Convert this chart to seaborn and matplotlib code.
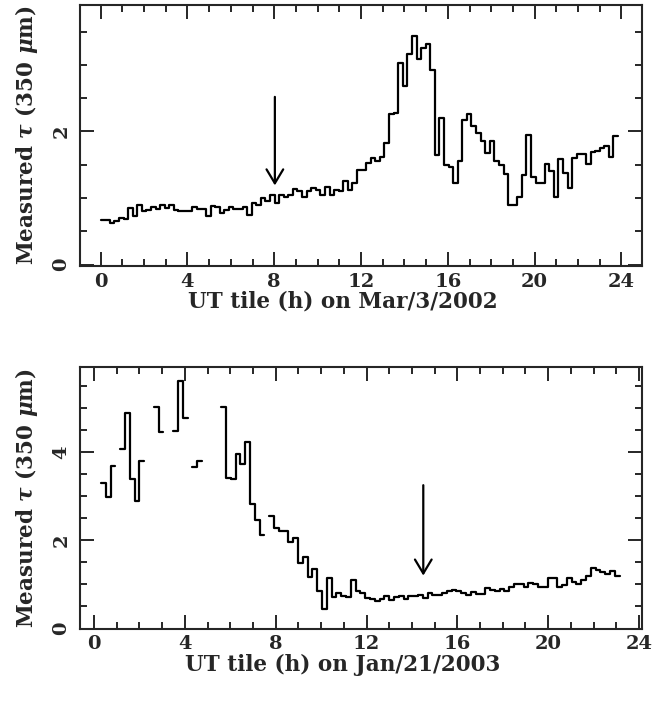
import numpy as np
import pandas as pd
import matplotlib.pyplot as plt
import seaborn as sns
from matplotlib.ticker import MultipleLocator

## tau(350 um) in ~12.7 min bins
## Mar/3/2002
start_2002 = 0.0
width_2002 = 0.211
tau_2002 = [0.67, 0.67, 0.62, 0.66, 0.70, 0.69, 0.85, 0.73, 0.90, 0.80,
            0.82, 0.86, 0.83, 0.90, 0.85, 0.90, 0.82, 0.81, 0.81, 0.81,
            0.86, 0.83, 0.83, 0.73, 0.88, 0.87, 0.77, 0.82, 0.87,
            0.83, 0.83, 0.87, 0.75, 0.93, 0.90, 1.00, 0.96, 1.04, 0.93,
            1.04, 1.02, 1.05, 1.13, 1.10, 1.02, 1.10, 1.15, 1.12, 1.05,
            1.17, 1.05, 1.12,
            1.10, 1.25, 1.12, 1.22, 1.42, 1.42, 1.52, 1.60, 1.56, 1.62,
            1.83, 2.27, 2.28, 3.03, 2.68, 3.16, 3.43, 3.09, 3.25, 3.32,
            2.93, 1.65, 2.20, 1.49, 1.47, 1.22, 1.56, 2.18, 2.27, 2.08,
            1.97, 1.86, 1.68, 1.85, 1.55, 1.49, 1.36, 0.89, 0.89, 1.02,
            1.35, 1.95, 1.31, 1.22, 1.22, 1.51, 1.40, 1.01, 1.58, 1.38,
            1.15, 1.60, 1.66, 1.66, 1.51, 1.69, 1.70, 1.75, 1.78, 1.61,
            1.93]
arrow_2002 = (8.03, 2.52, 1.19)

## Jan/21/2003 (nan = no data)
nan = np.nan
start_2003 = 0.308
width_2003 = 0.2115
tau_2003 = [3.29, 2.98, 3.69, nan, 4.06, 4.89, 3.40, 2.89, 3.80, nan,
            nan, 5.02, 4.46, nan, nan, 4.48, 5.62, 4.77, nan, 3.67,
            3.80, nan, nan, nan, nan, 5.03, 3.42, 3.38, 3.95, 3.74,
            4.23, 2.82, 2.45, 2.13, nan, 2.55, 2.27, 2.20, 2.20, 1.96,
            2.05, 1.49, 1.62, 1.17, 1.36, 0.86, 0.45, 1.14, 0.71, 0.80,
            0.73, 0.72, 1.09, 0.85, 0.81, 0.70, 0.68, 0.63, 0.67, 0.74,
            0.64, 0.72, 0.73, 0.67, 0.74, 0.74, 0.75, 0.70, 0.81, 0.77,
            0.76, 0.80, 0.85, 0.88, 0.85, 0.81, 0.77, 0.83, 0.79, 0.79,
            0.92, 0.88, 0.85, 0.90, 0.86, 0.94, 1.02, 1.02, 0.94, 1.03,
            1.00, 0.94, 0.94, 1.14, 1.14, 0.95, 0.98, 1.15, 1.05, 1.02,
            1.11, 1.20, 1.38, 1.33, 1.27, 1.23, 1.30, 1.20]
arrow_2003 = (14.5, 3.25, 1.20)


def steps_frame(start, width, vals):
    # one row per bin left edge, plus the right edge closing each run
    rows = []
    seg = 0
    prev_nan = True
    for i, v in enumerate(vals):
        if np.isnan(v):
            if not prev_nan:
                rows.append((start + i * width, vals[i - 1], seg))
                seg += 1
            prev_nan = True
            continue
        rows.append((start + i * width, v, seg))
        prev_nan = False
    if not prev_nan:
        rows.append((start + len(vals) * width, vals[-1], seg))
    return pd.DataFrame(rows, columns=['ut', 'tau', 'seg'])


sns.set_style('ticks')
plt.rcParams['font.family'] = ['DejaVu Serif', 'DejaVu Sans']
plt.rcParams['font.weight'] = 'bold'
plt.rcParams['mathtext.fontset'] = 'custom'
plt.rcParams['mathtext.it'] = 'DejaVu Serif:bold:italic'
plt.rcParams['mathtext.rm'] = 'DejaVu Serif:bold'

fig = plt.figure(figsize=(6.52, 7.02), dpi=100)
ax1 = fig.add_axes([0.1227, 0.6211, 0.862, 0.3718])
ax2 = fig.add_axes([0.1227, 0.1047, 0.8615, 0.3725])

panels = [
    (ax1, start_2002, width_2002, tau_2002, arrow_2002, 'UT tile (h) on Mar/3/2002', (-0.95, 24.95), (-0.02, 3.9)),
    (ax2, start_2003, width_2003, tau_2003, arrow_2003, 'UT tile (h) on Jan/21/2003', (-0.62, 24.12), (0.0, 5.93)),
]

for ax, st, w, vals, arr, xlab, xl, yl in panels:
    df = steps_frame(st, w, vals)
    sns.lineplot(data=df, x='ut', y='tau', units='seg', estimator=None,
                 drawstyle='steps-post', color='black', lw=1.6, ax=ax, legend=False)
    ax.annotate('', xy=(arr[0], arr[2]), xytext=(arr[0], arr[1]),
                arrowprops=dict(arrowstyle='->,head_length=0.5,head_width=0.3',
                                mutation_scale=20, color='black', lw=1.6,
                                shrinkA=0, shrinkB=0))
    ax.set_xlim(*xl)
    ax.set_ylim(*yl)
    ax.xaxis.set_major_locator(MultipleLocator(4))
    ax.xaxis.set_minor_locator(MultipleLocator(1))
    ax.yaxis.set_major_locator(MultipleLocator(2))
    ax.yaxis.set_minor_locator(MultipleLocator(0.5))
    ax.tick_params(which='both', direction='in', top=True, right=True, width=1.4, labelsize=14)
    ax.tick_params(which='major', length=10)
    ax.tick_params(which='minor', length=5)
    ax.tick_params(axis='x', pad=5)
    ax.tick_params(axis='y', pad=7)
    plt.setp(ax.get_yticklabels(), rotation=90, va='center')
    for sp in ax.spines.values():
        sp.set_linewidth(1.5)
    ax.set_xlabel(xlab, fontsize=15.5, fontweight='bold', labelpad=0)
    ax.xaxis.label.set_x(0.467)
    ax.set_ylabel(r'Measured $\tau$ (350 $\mu$m)', fontsize=15.5, fontweight='bold', labelpad=9)

fig.savefig('out.png', dpi=100)
